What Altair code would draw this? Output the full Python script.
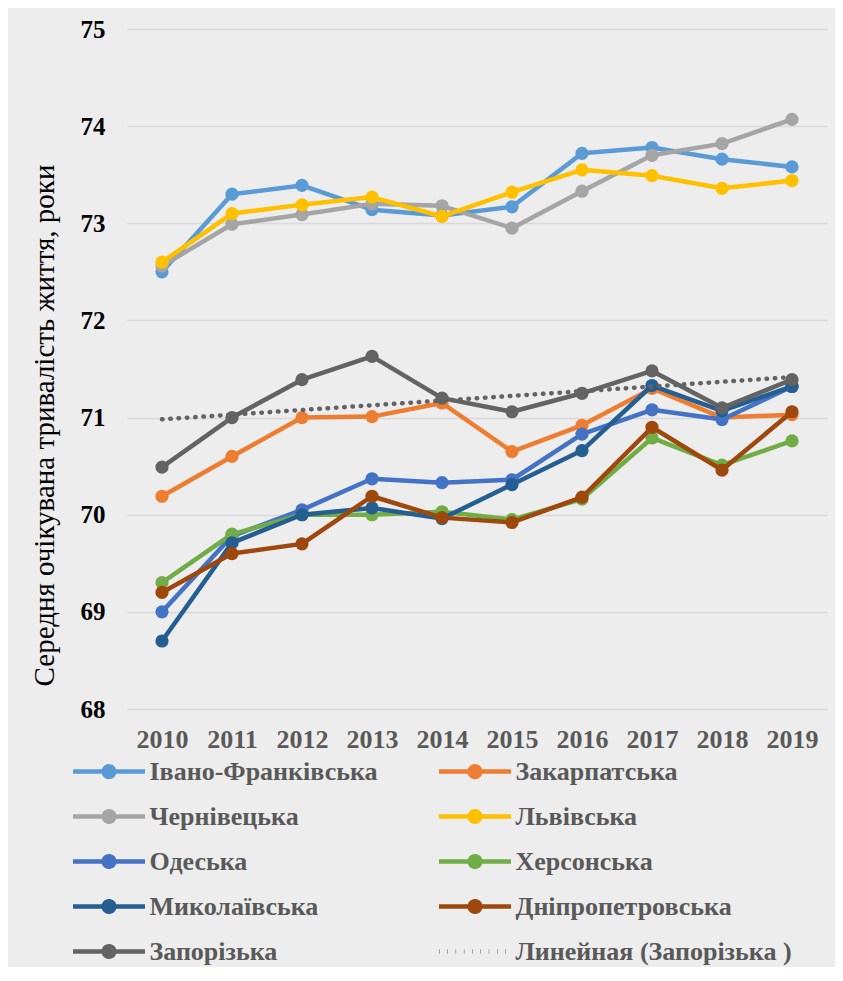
import altair as alt
import pandas as pd

years = [2010, 2011, 2012, 2013, 2014, 2015, 2016, 2017, 2018, 2019]

series_names = [
    "Івано-Франківська", "Закарпатська", "Чернівецька", "Львівська",
    "Одеська", "Херсонська", "Миколаївська", "Дніпропетровська", "Запорізька",
]
trend_name = "Линейная (Запорізька )"

ivano = [72.50, 73.30, 73.39, 73.14, 73.08, 73.17, 73.72, 73.78, 73.66, 73.58]
zakarp = [70.19, 70.60, 71.00, 71.01, 71.15, 70.65, 70.92, 71.30, 71.00, 71.03]
cherniv = [72.56, 72.99, 73.09, 73.20, 73.18, 72.95, 73.33, 73.70, 73.82, 74.07]
lviv = [72.60, 73.10, 73.19, 73.27, 73.07, 73.32, 73.55, 73.49, 73.36, 73.44]
odesa = [69.00, 69.78, 70.05, 70.37, 70.33, 70.36, 70.83, 71.08, 70.98, 71.32]
kherson = [69.30, 69.80, 70.00, 70.00, 70.03, 69.95, 70.16, 70.79, 70.51, 70.76]
mykol = [68.70, 69.71, 70.00, 70.07, 69.96, 70.31, 70.66, 71.33, 71.07, 71.32]
dnipro = [69.20, 69.60, 69.70, 70.19, 69.97, 69.92, 70.18, 70.90, 70.46, 71.06]
zapor = [70.49, 71.00, 71.39, 71.63, 71.20, 71.06, 71.25, 71.48, 71.10, 71.39]

all_values = [ivano, zakarp, cherniv, lviv, odesa, kherson, mykol, dnipro, zapor]

colors = ["#5B9BD5", "#ED7D31", "#A5A5A5", "#FFC000", "#4472C4",
          "#70AD47", "#255E91", "#9E480E", "#636363", "#636363"]

y_ticks = [68, 69, 70, 71, 72, 73, 74, 75]

rows = []
for name, vals in zip(series_names, all_values):
    for yr, v in zip(years, vals):
        rows.append({"series": name, "year": yr, "value": v})
df = pd.DataFrame(rows)

FONT = "Liberation Serif"
legend_names = series_names + [trend_name]

line_circle = "M-3,0L3,0M-0.44,0A0.44,0.44,0,1,1,0.44,0A0.44,0.44,0,1,1,-0.44,0"
line_only = "M-3,0L3,0"
shape_range = [line_circle] * 9 + [line_only]
dash_range = [[1, 0]] * 9 + [[0.5, 7.8]]
width_range = [4.5] * 9 + [3]

legend = alt.Legend(title=None, orient="none", legendX=-54, legendY=728, columns=2,
                    direction="horizontal",
                    columnPadding=52, rowPadding=16, padding=0,
                    labelFont=FONT, labelFontSize=26, labelFontWeight="bold",
                    labelColor="#595959", labelLimit=500,
                    symbolSize=576, symbolOffset=21.5, labelOffset=26)

xenc = alt.X(
    "year:Q",
    scale=alt.Scale(domain=[2009.5, 2019.5], nice=False, zero=False),
    axis=alt.Axis(values=years, format="d", title=None, grid=False, domain=False,
                  ticks=False, labelFont=FONT, labelFontSize=26, labelFontWeight="bold",
                  labelColor="#595959", labelPadding=17),
)
yenc = alt.Y(
    "value:Q",
    scale=alt.Scale(domain=[68, 75], nice=False, zero=False),
    axis=alt.Axis(values=y_ticks, title="Середня очікувана тривалість життя, роки",
                  grid=True, gridColor="#D9D9D9", gridWidth=1.3, domain=False, ticks=False,
                  labelFont=FONT, labelFontSize=25, labelFontWeight="bold",
                  labelColor="#000000", labelPadding=22,
                  titleFont=FONT, titleFontSize=29, titleFontWeight="normal",
                  titleColor="#000000", titleX=-83, titleY=396, titleBaseline="middle"),
)
cenc = alt.Color("series:N", scale=alt.Scale(domain=legend_names, range=colors), legend=legend)
senc = alt.Shape("series:N", scale=alt.Scale(domain=legend_names, range=shape_range), legend=legend)
denc = alt.StrokeDash("series:N", scale=alt.Scale(domain=legend_names, range=dash_range), legend=legend)
wenc = alt.StrokeWidth("series:N", scale=alt.Scale(domain=legend_names, range=width_range), legend=legend)

base = alt.Chart(df)
layers = []
for name in series_names:
    sub = base.transform_filter(alt.datum.series == name)
    layers.append(sub.mark_line(strokeWidth=4.5, strokeJoin="round", strokeCap="round")
                  .encode(x=xenc, y=yenc, color=cenc))
    layers.append(sub.mark_point(filled=True, size=175, opacity=1)
                  .encode(x=xenc, y=yenc, color=cenc))

# legend-only layer carrying the symbol shapes (no rows)
layers.append(base.transform_filter("false").mark_point(filled=True, opacity=1)
              .encode(x=xenc, y=yenc, color=cenc, shape=senc))

trend = (
    base.transform_filter(alt.datum.series == "Запорізька")
    .transform_regression("year", "value")
    .transform_calculate(series=f"'{trend_name}'")
    .mark_line(strokeCap="round")
    .encode(x=xenc, y=yenc, color=cenc, strokeDash=denc, strokeWidth=wenc)
)
layers.append(trend)

chart = (
    alt.layer(*layers)
    .properties(width=700, height=680, background="#EDEDED",
                padding={"left": 119, "top": 21, "right": 8, "bottom": 258},
                autosize=alt.AutoSizeParams(type="none"))
    .configure_view(stroke=None)
)

chart.save("out.html", embed_options={"renderer": "svg", "actions": False})
